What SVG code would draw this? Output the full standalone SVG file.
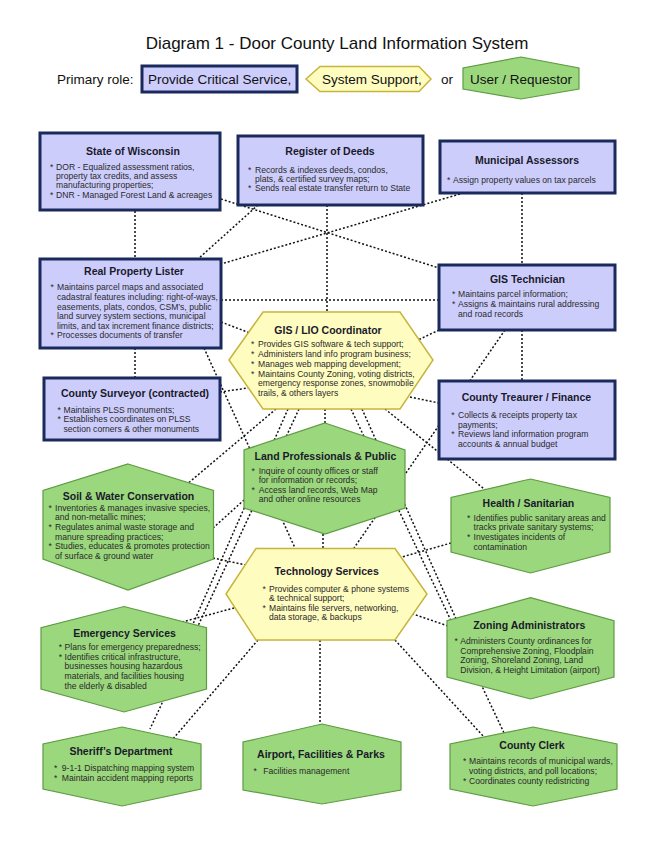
<svg xmlns="http://www.w3.org/2000/svg" width="657" height="850" viewBox="0 0 657 850">
<style>
.crit{fill:#cdcdfc;stroke:#1b2a5c;stroke-width:3}
.sup{fill:#fffcc0;stroke:#c8b43c;stroke-width:1.5}
.usr{fill:#9bd77d;stroke:#5e9c42;stroke-width:1.2}
.con{fill:none;stroke:#111;stroke-width:1.5;stroke-dasharray:2 2}
.t{font-family:"Liberation Sans",Arial,sans-serif;font-size:10.5px;font-weight:bold;fill:#1a1a2a;text-anchor:middle}
.b{font-family:"Liberation Sans",Arial,sans-serif;font-size:8.6px;fill:#2a2a2a}
.h{font-family:"Liberation Sans",Arial,sans-serif;font-size:17px;fill:#111;text-anchor:middle}
.l{font-family:"Liberation Sans",Arial,sans-serif;font-size:13.5px;fill:#111}
</style>
<rect x="0" y="0" width="657" height="850" fill="#ffffff"/>
<text class="h" x="337" y="49">Diagram 1 - Door County Land Information System</text>
<g id="legend">
<text class="l" x="57" y="84">Primary role:</text>
<rect class="crit" x="142" y="66" width="155" height="26"/>
<text class="l" x="148" y="84">Provide Critical Service,</text>
<polygon class="sup" points="306,79 320,66.5 419,66.5 431,79 419,91.5 320,91.5"/>
<text class="l" x="322" y="84">System Support,</text>
<text class="l" x="441" y="84">or</text>
<polygon class="usr" points="521,57 579,68 579,89 521,99 463,89 463,68"/>
<text class="l" x="470" y="84">User / Requestor</text>
</g>
<g id="connectors">
<path class="con" d="M135 211V259"/>
<path class="con" d="M221 199L439 268"/>
<path class="con" d="M258 205L198 259"/>
<path class="con" d="M460 194L221 264"/>
<path class="con" d="M327 205V312"/>
<path class="con" d="M522 193V265"/>
<path class="con" d="M221 300H439"/>
<path class="con" d="M221 322L250 333"/>
<path class="con" d="M439 330L418 340"/>
<path class="con" d="M135 348V378"/>
<path class="con" d="M522 330V381"/>
<path class="con" d="M220 392L248 388"/>
<path class="con" d="M410 397L439 403"/>
<path class="con" d="M204 348L295 548"/>
<path class="con" d="M505 330L354 548"/>
<path class="con" d="M276 409L186 485"/>
<path class="con" d="M385 409L488 492"/>
<path class="con" d="M325 409V423"/>
<path class="con" d="M323 534V549"/>
<path class="con" d="M299 409L150 729"/>
<path class="con" d="M288 409L193 624"/>
<path class="con" d="M351 409L505 735"/>
<path class="con" d="M362 409L457 621"/>
<path class="con" d="M213 558L246 565"/>
<path class="con" d="M451 543L402 557"/>
<path class="con" d="M182 622L234 608"/>
<path class="con" d="M448 626L413 614"/>
<path class="con" d="M320 640V725"/>
<path class="con" d="M258 640L172 740"/>
<path class="con" d="M395 640L484 737"/>
<path class="con" d="M213 528L244 500"/>
</g>
<g id="state-of-wisconsin">
<rect class="crit" x="40" y="133" width="180" height="77"/>
<text class="t" x="133" y="155">State of Wisconsin</text>
<text class="b" y="170"><tspan x="50">*</tspan><tspan x="56">DOR - Equalized assessment ratios,</tspan></text>
<text class="b" x="56" y="179.2">property tax credits, and assess</text>
<text class="b" x="56" y="188.4">manufacturing properties;</text>
<text class="b" y="197.6"><tspan x="50">*</tspan><tspan x="56">DNR - Managed Forest Land &amp; acreages</tspan></text>
</g>
<g id="register-of-deeds">
<rect class="crit" x="238" y="136" width="185" height="69"/>
<text class="t" x="330" y="155">Register of Deeds</text>
<text class="b" y="172.7"><tspan x="248">*</tspan><tspan x="255">Records &amp; indexes deeds, condos,</tspan></text>
<text class="b" x="255" y="181.8">plats, &amp; certified survey maps;</text>
<text class="b" y="191"><tspan x="248">*</tspan><tspan x="255">Sends real estate transfer return to State</tspan></text>
</g>
<g id="municipal-assessors">
<rect class="crit" x="440" y="141" width="175" height="52"/>
<text class="t" x="527" y="164">Municipal Assessors</text>
<text class="b" y="183"><tspan x="447">*</tspan><tspan x="453">Assign property values on tax parcels</tspan></text>
</g>
<g id="real-property-lister">
<rect class="crit" x="40" y="259" width="181" height="89"/>
<text class="t" x="134" y="275.3">Real Property Lister</text>
<text class="b" y="290.4"><tspan x="50.5">*</tspan><tspan x="57">Maintains parcel maps and associated</tspan></text>
<text class="b" x="57" y="300">cadastral features including: right-of-ways,</text>
<text class="b" x="57" y="309.5">easements, plats, condos, CSM’s, public</text>
<text class="b" x="57" y="319.1">land survey system sections, municipal</text>
<text class="b" x="57" y="328.6">limits, and tax increment finance districts;</text>
<text class="b" y="338.2"><tspan x="50.5">*</tspan><tspan x="57">Processes documents of transfer</tspan></text>
</g>
<g id="gis-technician">
<rect class="crit" x="439" y="265" width="176" height="65"/>
<text class="t" x="527.5" y="283.4">GIS Technician</text>
<text class="b" y="297.4"><tspan x="452">*</tspan><tspan x="458">Maintains parcel information;</tspan></text>
<text class="b" y="307.2"><tspan x="452">*</tspan><tspan x="458">Assigns &amp; maintains rural addressing</tspan></text>
<text class="b" x="458" y="316.7">and road records</text>
</g>
<g id="county-surveyor">
<rect class="crit" x="44" y="378" width="176" height="62"/>
<text class="t" x="135" y="396.6">County Surveyor (contracted)</text>
<text class="b" y="412.7"><tspan x="57.5">*</tspan><tspan x="63.5">Maintains PLSS monuments;</tspan></text>
<text class="b" y="422.2"><tspan x="57.5">*</tspan><tspan x="63.5">Establishes coordinates on PLSS</tspan></text>
<text class="b" x="63.5" y="432">section corners &amp; other monuments</text>
</g>
<g id="county-treasurer">
<rect class="crit" x="439" y="381" width="176" height="78"/>
<text class="t" x="526.4" y="400.5">County Treaurer / Finance</text>
<text class="b" y="418"><tspan x="451.3">*</tspan><tspan x="458">Collects &amp; receipts property tax</tspan></text>
<text class="b" x="458" y="427.5">payments;</text>
<text class="b" y="437"><tspan x="451.3">*</tspan><tspan x="458">Reviews land information program</tspan></text>
<text class="b" x="458" y="446.6">accounts &amp; annual budget</text>
</g>
<g id="gis-lio-coordinator">
<polygon class="sup" points="229,360 263,312 400,312 433,360 400,409 263,409"/>
<text class="t" x="328" y="334.4">GIS / LIO Coordinator</text>
<text class="b" y="347.2"><tspan x="251">*</tspan><tspan x="258">Provides GIS software &amp; tech support;</tspan></text>
<text class="b" y="357"><tspan x="251">*</tspan><tspan x="258">Administers land info program business;</tspan></text>
<text class="b" y="366.8"><tspan x="251">*</tspan><tspan x="258">Manages web mapping development;</tspan></text>
<text class="b" y="376.6"><tspan x="251">*</tspan><tspan x="258">Maintains County Zoning, voting districts,</tspan></text>
<text class="b" x="258" y="386.4">emergency response zones, snowmobile</text>
<text class="b" x="258" y="396.2">trails, &amp; others layers</text>
</g>
<g id="land-professionals-public">
<polygon class="usr" points="325,423 405,450 405,508 325,534 244,508 244,450"/>
<text class="t" x="325.4" y="459.5">Land Professionals &amp; Public</text>
<text class="b" y="473.6"><tspan x="251.5">*</tspan><tspan x="258.7">Inquire of county offices or staff</tspan></text>
<text class="b" x="258.7" y="483.2">for information or records;</text>
<text class="b" y="492.8"><tspan x="251.5">*</tspan><tspan x="258.7">Access land records, Web Map</tspan></text>
<text class="b" x="258.7" y="502.4">and other online resources</text>
</g>
<g id="soil-water-conservation">
<polygon class="usr" points="128,464 213.5,490.5 213.5,559 128,590 43,559 43,490.5"/>
<text class="t" x="128.5" y="499.6">Soil &amp; Water Conservation</text>
<text class="b" y="510.5"><tspan x="48.5">*</tspan><tspan x="55">Inventories &amp; manages invasive species,</tspan></text>
<text class="b" x="55" y="520.2">and non-metallic mines;</text>
<text class="b" y="529.9"><tspan x="48.5">*</tspan><tspan x="55">Regulates animal waste storage and</tspan></text>
<text class="b" x="55" y="539.6">manure spreading practices;</text>
<text class="b" y="549.3"><tspan x="48.5">*</tspan><tspan x="55">Studies, educates &amp; promotes protection</tspan></text>
<text class="b" x="55" y="559">of surface &amp; ground water</text>
</g>
<g id="health-sanitarian">
<polygon class="usr" points="530.5,479 610,497.5 610,552 530.5,573 451,552 451,497.5"/>
<text class="t" x="528.4" y="506.6">Health / Sanitarian</text>
<text class="b" y="520.7"><tspan x="467">*</tspan><tspan x="473.5">Identifies public sanitary areas and</tspan></text>
<text class="b" x="473.5" y="530.4">tracks private sanitary systems;</text>
<text class="b" y="540.1"><tspan x="467">*</tspan><tspan x="473.5">Investigates incidents of</tspan></text>
<text class="b" x="473.5" y="549.8">contamination</text>
</g>
<g id="technology-services">
<polygon class="sup" points="226,594 256,548.5 395,548.5 427,594 395,640 256,640"/>
<text class="t" x="326.6" y="575.2">Technology Services</text>
<text class="b" y="591.6"><tspan x="262.4">*</tspan><tspan x="269">Provides computer &amp; phone systems</tspan></text>
<text class="b" x="269" y="601.1">&amp; technical support;</text>
<text class="b" y="610.8"><tspan x="262.4">*</tspan><tspan x="269">Maintains file servers, networking,</tspan></text>
<text class="b" x="269" y="620.4">data storage, &amp; backups</text>
</g>
<g id="emergency-services">
<polygon class="usr" points="124,606.5 206.5,627.6 206.5,689 124,712 41,689 41,627.6"/>
<text class="t" x="124.5" y="636.7">Emergency Services</text>
<text class="b" y="650"><tspan x="58.7">*</tspan><tspan x="64.6">Plans for emergency preparedness;</tspan></text>
<text class="b" y="659.7"><tspan x="58.7">*</tspan><tspan x="64.6">Identifies critical infrastructure,</tspan></text>
<text class="b" x="64.6" y="669.4">businesses housing hazardous</text>
<text class="b" x="64.6" y="679.1">materials, and facilities housing</text>
<text class="b" x="64.6" y="688.8">the elderly &amp; disabled</text>
</g>
<g id="zoning-administrators">
<polygon class="usr" points="530.5,597.7 614,620.6 614,677 530.5,699 447,677 447,620.6"/>
<text class="t" x="529.3" y="628.8">Zoning Administrators</text>
<text class="b" y="644"><tspan x="454.4">*</tspan><tspan x="460.3">Administers County ordinances for</tspan></text>
<text class="b" x="460.3" y="653.6">Comprehensive Zoning, Floodplain</text>
<text class="b" x="460.3" y="663.2">Zoning, Shoreland Zoning, Land</text>
<text class="b" x="460.3" y="672.8">Division, &amp; Height Limitation (airport)</text>
</g>
<g id="sheriffs-department">
<polygon class="usr" points="122,727 201,744 201,789 122,806 43,789 43,744"/>
<text class="t" x="121" y="755">Sheriff’s Department</text>
<text class="b" y="771"><tspan x="54">*</tspan><tspan x="61.8">9-1-1 Dispatching mapping system</tspan></text>
<text class="b" y="781"><tspan x="54">*</tspan><tspan x="61.8">Maintain accident mapping reports</tspan></text>
</g>
<g id="airport-facilities-parks">
<polygon class="usr" points="322,724 401,742 401,790 322,804 243,790 243,742"/>
<text class="t" x="321" y="757.5">Airport, Facilities &amp; Parks</text>
<text class="b" y="774"><tspan x="253.5">*</tspan><tspan x="263.3">Facilities management</tspan></text>
</g>
<g id="county-clerk">
<polygon class="usr" points="533,727 617,744 617,789 533,806 450,789 450,744"/>
<text class="t" x="532" y="748.5">County Clerk</text>
<text class="b" y="763.5"><tspan x="463">*</tspan><tspan x="469">Maintains records of municipal wards,</tspan></text>
<text class="b" x="469" y="773.5">voting districts, and poll locations;</text>
<text class="b" y="783.5"><tspan x="463">*</tspan><tspan x="469">Coordinates county redistricting</tspan></text>
</g>
</svg>
